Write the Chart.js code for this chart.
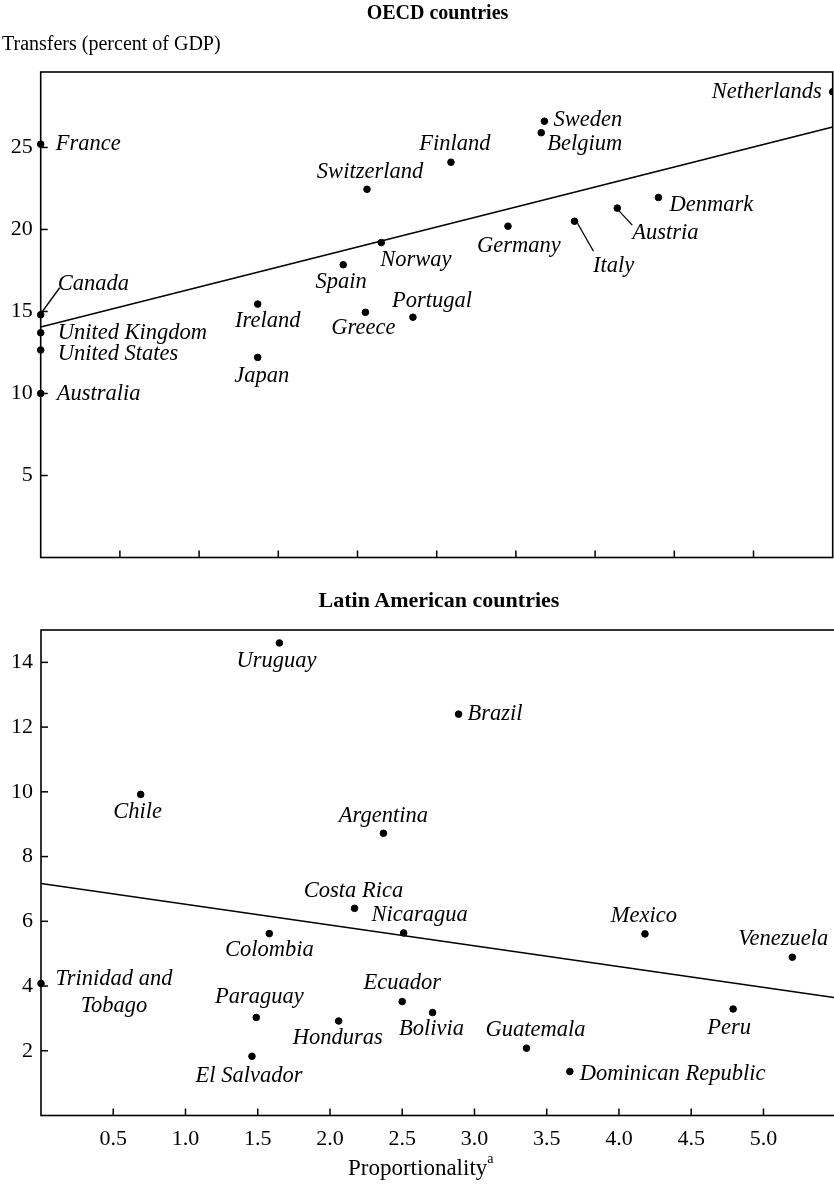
<!DOCTYPE html>
<html><head><meta charset="utf-8">
<script src="https://cdn.jsdelivr.net/npm/chart.js@4.4.1/dist/chart.umd.min.js"></script>
<style>
html,body{margin:0;padding:0;background:#fff;}
body{width:834px;height:1184px;position:relative;overflow:hidden;font-family:"Liberation Serif","DejaVu Serif",serif;color:#000;}
.t{position:absolute;white-space:nowrap;line-height:1;z-index:2;}
#c1{position:absolute;left:0;top:0;width:837px;height:600px;}
#c2{position:absolute;left:0;top:600px;width:840px;height:584px;}
</style></head><body>
<div class="t" style="left:41px;width:793px;text-align:center;top:2px;font-size:20px;font-weight:bold;">OECD countries</div>
<div class="t" style="left:2px;top:33px;font-size:20px;">Transfers (percent of GDP)</div>
<div class="t" style="left:41px;width:796px;text-align:center;top:589px;font-size:22px;font-weight:bold;">Latin American countries</div>
<div class="t" style="left:348px;top:1156px;font-size:23px;">Proportionality<sup style="font-size:14px;vertical-align:top;position:relative;top:-4px;">a</sup></div>
<canvas id="c1" width="837" height="600"></canvas>
<canvas id="c2" width="840" height="584"></canvas>
<script>
// ---------- DATA ----------
const oecdNames = ["France","Canada","United Kingdom","United States","Australia","Ireland","Japan","Spain","Switzerland","Norway","Greece","Portugal","Finland","Germany","Sweden","Belgium","Italy","Austria","Denmark","Netherlands"];
const oecdX = [0,0,0,0,0,1.37,1.37,1.91,2.06,2.15,2.05,2.35,2.59,2.95,3.18,3.16,3.37,3.64,3.90,5.0];
const oecdY = [25.2,14.8,13.7,12.65,10.0,15.45,12.2,17.85,22.45,19.2,14.95,14.65,24.1,20.2,26.6,25.9,20.5,21.3,21.95,28.4];
const oecdFitX = [0,5];
const oecdFitY = [14.05,26.25];
const oecdYTicks = [5,10,15,20,25];

const latinNames = ["Uruguay","Brazil","Chile","Argentina","Costa Rica","Nicaragua","Colombia","Mexico","Venezuela","Trinidad and Tobago","Paraguay","Honduras","El Salvador","Ecuador","Bolivia","Guatemala","Dominican Republic","Peru"];
const latinX = [1.65,2.89,0.69,2.37,2.17,2.51,1.58,4.18,5.20,0,1.49,2.06,1.46,2.50,2.71,3.36,3.66,4.79];
const latinY = [14.6,12.4,9.92,8.72,6.4,5.64,5.62,5.61,4.89,4.08,3.03,2.92,1.83,3.52,3.18,2.08,1.36,3.29];
const latinFitX = [0,5.5];
const latinFitY = [7.17,3.64];
const latinYTicks = [2,4,6,8,10,12,14];
const xTickLabels = [0.5,1.0,1.5,2.0,2.5,3.0,3.5,4.0,4.5,5.0];

// ---------- LABEL LAYOUT (offsets from point, in px) ----------
const oecdLabelPos = {
  "France":[15,0,"left"],"Canada":[17,-31,"left"],"United Kingdom":[17,0,"left"],"United States":[17,4,"left"],
  "Australia":[16,1,"left"],"Ireland":[10,17,"center"],"Japan":[4,19,"center"],"Spain":[-2,17,"center"],
  "Switzerland":[3,-17,"center"],"Norway":[-1,17,"left"],"Greece":[-2,16,"center"],"Portugal":[19,-16,"center"],
  "Finland":[4,-18,"center"],"Germany":[11,20,"center"],"Sweden":[9,-1,"left"],"Belgium":[6,11,"left"],
  "Italy":[39,45,"center"],"Austria":[15,25,"left"],"Denmark":[11,8,"left"],"Netherlands":[-11,0,"right"]
};
const oecdLeaders = {"Canada":[0,-1,19,-27],"Italy":[3,2,19,30],"Austria":[1,2,15,17]};
const latinLabelPos = {
  "Uruguay":[-3,18,"center"],"Brazil":[9,0,"left"],"Chile":[-3,18,"center"],"Argentina":[0,-17,"center"],
  "Costa Rica":[-1,-17,"center"],"Nicaragua":[16,-18,"center"],"Colombia":[0,16,"center"],"Mexico":[-1,-18,"center"],
  "Venezuela":[-9,-18,"center"],"Trinidad and Tobago":[73,9,"center"],"Paraguay":[3,-20,"center"],
  "Honduras":[-1,17,"center"],"El Salvador":[-3,20,"center"],"Ecuador":[0,-18,"center"],"Bolivia":[-1,17,"center"],
  "Guatemala":[9,-18,"center"],"Dominican Republic":[10,3,"left"],"Peru":[-4,19,"center"]
};
const lineBreaks = {"Trinidad and Tobago":["Trinidad and","Tobago"]};

const FONT = '"Liberation Serif","DejaVu Serif",serif';

const labelPlugin = {
  id:'ptLabels',
  afterDatasetsDraw(chart, args, o){
    const ctx=chart.ctx, xs=chart.scales.x, ys=chart.scales.y;
    ctx.save();
    ctx.font='italic 22.5px '+FONT;
    ctx.fillStyle='#000'; ctx.strokeStyle='#000'; ctx.lineWidth=1.3;
    ctx.textBaseline='middle';
    o.names.forEach((n,i)=>{
      const px=xs.getPixelForValue(o.xs[i]), py=ys.getPixelForValue(o.ys[i]);
      const p=o.pos[n]; if(!p) return;
      ctx.textAlign=p[2];
      const lines=lineBreaks[n]||[n];
      const lh=27, y0=py+p[1]-(lines.length-1)*lh/2;
      lines.forEach((s,k)=>ctx.fillText(s,px+p[0],y0+k*lh));
      const l=o.leaders&&o.leaders[n];
      if(l){ctx.beginPath();ctx.moveTo(px+l[0],py+l[1]);ctx.lineTo(px+l[2],py+l[3]);ctx.stroke();}
    });
    ctx.restore();
  }
};
const framePlugin = {
  id:'frame',
  afterDraw(chart){
    const {ctx, chartArea:a, scales}=chart;
    ctx.save(); ctx.strokeStyle='#000'; ctx.lineWidth=1.6;
    ctx.strokeRect(a.left,a.top,a.right-a.left,a.bottom-a.top);
    const L=7; ctx.lineWidth=1.5;
    scales.x.ticks.forEach(t=>{
      if(t.value<=scales.x.min+1e-9||t.value>=scales.x.max-1e-9) return;
      const p=scales.x.getPixelForValue(t.value);
      ctx.beginPath();ctx.moveTo(p,a.bottom);ctx.lineTo(p,a.bottom-L);ctx.stroke();
    });
    scales.y.ticks.forEach(t=>{
      if(t.value<=scales.y.min+1e-9||t.value>=scales.y.max-1e-9) return;
      const p=scales.y.getPixelForValue(t.value);
      ctx.beginPath();ctx.moveTo(a.left,p);ctx.lineTo(a.left+L,p);ctx.stroke();
    });
    ctx.restore();
  }
};

function pts(xs,ys){return xs.map((x,i)=>({x:x,y:ys[i]}));}

function makeChart(id, cfg){
  return new Chart(document.getElementById(id), {
    type:'scatter',
    data:{datasets:[
      {data:pts(cfg.xs,cfg.ys), backgroundColor:'#000', borderColor:'#000', pointRadius:3.3, pointHoverRadius:3.3, showLine:false,
       clip:{left:8,top:8,right:0,bottom:8}},
      {data:pts(cfg.fx,cfg.fy), showLine:true, borderColor:'#000', borderWidth:1.6, pointRadius:0, fill:false}
    ]},
    options:{
      responsive:false, animation:false, devicePixelRatio:1,
      layout:{padding:cfg.padding},
      plugins:{legend:{display:false}, tooltip:{enabled:false},
        ptLabels:{names:cfg.names, xs:cfg.xs, ys:cfg.ys, pos:cfg.pos, leaders:cfg.leaders}},
      scales:{
        x:{type:'linear', min:0, max:cfg.xmax,
          grid:{display:false, drawTicks:false}, border:{display:false},
          afterFit:s=>{s.height=cfg.xh; s.paddingLeft=0; s.paddingRight=0;},
          afterBuildTicks:s=>{s.ticks=[0].concat(xTickLabels.filter(v=>v<cfg.xmax)).concat([cfg.xmax]).map(v=>({value:v}));},
          ticks:{display:cfg.xLabels, padding:11, color:'#000', font:{family:FONT,size:22},
            callback:v=>xTickLabels.some(t=>Math.abs(t-v)<1e-9)?Number(v).toFixed(1):''}},
        y:{type:'linear', min:0, max:cfg.ymax,
          grid:{display:false, drawTicks:false}, border:{display:false},
          afterFit:s=>{s.width=cfg.yw; s.paddingTop=0; s.paddingBottom=0;},
          afterBuildTicks:s=>{s.ticks=[0].concat(cfg.yticks).concat([cfg.ymax]).map(v=>({value:v}));},
          ticks:{padding:8, color:'#000', font:{family:FONT,size:22},
            callback:v=>cfg.yticks.includes(v)?String(v):''}}
      }
    },
    plugins:[labelPlugin, framePlugin]
  });
}

makeChart('c1',{names:oecdNames, xs:oecdX, ys:oecdY, fx:oecdFitX, fy:oecdFitY, pos:oecdLabelPos, leaders:oecdLeaders,
  xmax:5, ymax:29.6, yticks:oecdYTicks, xLabels:false, padding:{top:72,right:2,left:0,bottom:0}, xh:42.5, yw:40.7});
makeChart('c2',{names:latinNames, xs:latinX, ys:latinY, fx:latinFitX, fy:latinFitY, pos:latinLabelPos, leaders:{},
  xmax:5.5, ymax:15, yticks:latinYTicks, xLabels:true, padding:{top:30,right:2,left:0,bottom:0}, xh:68.5, yw:41});
</script>
</body></html>
